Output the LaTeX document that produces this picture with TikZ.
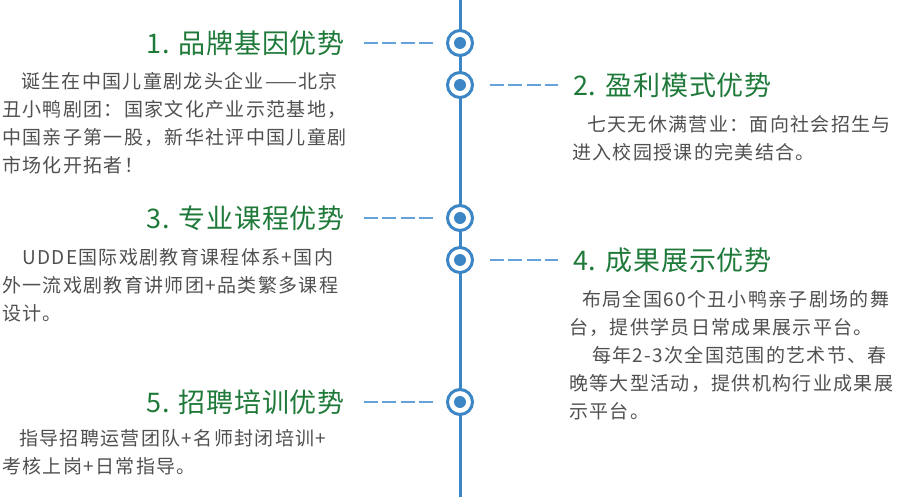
\documentclass[tikz,border=0pt]{standalone}
\usepackage{fontspec}
\setmainfont{Noto Sans CJK SC}
\newfontfamily\headfont[LetterSpace=3]{Noto Sans CJK SC}
\newfontfamily\bodyfont[LetterSpace=7]{Noto Sans CJK SC}
\definecolor{linecol}{HTML}{3D86C6}
\definecolor{dashcol}{HTML}{64A2DA}
\definecolor{headcol}{HTML}{1F7A3A}
\definecolor{textcol}{HTML}{505050}

\begin{document}
\begin{tikzpicture}[x=1bp, y=-1bp,
  dot/.style = {draw=linecol, circle, line width=3bp, fill=white, minimum size=25bp, inner sep=0pt,
    path picture={\fill[linecol] (path picture bounding box.center) circle (6bp);}},
  head/.style = {text=headcol, font=\headfont\fontsize{27bp}{30bp}\selectfont, inner sep=0pt},
  body/.style = {text=textcol, font=\bodyfont\fontsize{19bp}{28bp}\selectfont, align=left, inner sep=0pt, anchor=north west},
  link/.style = {draw=dashcol, line width=2bp, dash pattern=on 14bp off 4.3bp}]
	\useasboundingbox (0,0) rectangle (898,497);
	\coordinate (top) at (460,0);
	\coordinate (bottom) at (460,497);
	\draw[linecol, line width=3bp] (top) -- (bottom);
	\node[dot] (c1) at (460,43) {};
	\node[dot] (c2) at (460,85) {};
	\node[dot] (c3) at (460,218) {};
	\node[dot] (c4) at (460,260) {};
	\node[dot] (c5) at (460,402) {};
	\node[head, anchor=east] (h1) at (345,43) {1. 品牌基因优势};
	\node[head, anchor=west] (h2) at (573,85) {2. 盈利模式优势};
	\node[head, anchor=east] (h3) at (345,218) {3. 专业课程优势};
	\node[head, anchor=west] (h4) at (573,260) {4. 成果展示优势};
	\node[head, anchor=east] (h5) at (345,402) {5. 招聘培训优势};
	\node[body] (t1) at (2,72) {\hspace*{19bp}诞生在中国儿童剧龙头企业——北京\\丑小鸭剧团：国家文化产业示范基地，\\中国亲子第一股，新华社评中国儿童剧\\市场化开拓者！};
	\node[body] (t2) at (572,115) {\hspace*{15bp}七天无休满营业：面向社会招生与\\进入校园授课的完美结合。};
	\node[body] (t3) at (2,248) {\hspace*{20bp}UDDE国际戏剧教育课程体系+国内\\外一流戏剧教育讲师团+品类繁多课程\\设计。};
	\node[body] (t4) at (569,290) {\hspace*{13bp}布局全国60个丑小鸭亲子剧场的舞\\台，提供学员日常成果展示平台。\\\hspace*{23bp}每年2-3次全国范围的艺术节、春\\晚等大型活动，提供机构行业成果展\\示平台。};
	\node[body] (t5) at (2,429) {\hspace*{17bp}指导招聘运营团队+名师封闭培训+\\考核上岗+日常指导。};
	\draw[link, shorten <=19bp, shorten >=13bp] (h1.east) -- (c1);
	\draw[link, shorten <=16bp, shorten >=15bp] (c2) -- (h2.west);
	\draw[link, shorten <=19bp, shorten >=13bp] (h3.east) -- (c3);
	\draw[link, shorten <=16bp, shorten >=15bp] (c4) -- (h4.west);
	\draw[link, shorten <=19bp, shorten >=13bp] (h5.east) -- (c5);
\end{tikzpicture}
\end{document}
